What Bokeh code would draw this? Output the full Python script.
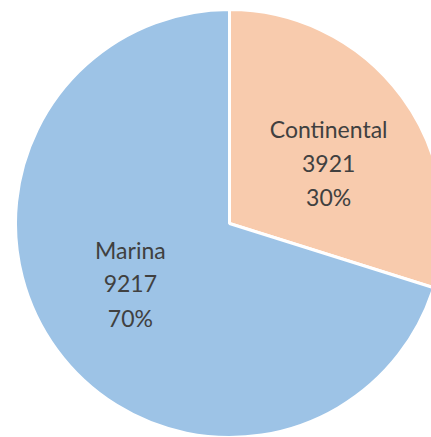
import math
from bokeh.plotting import figure
from bokeh.models import Range1d, ColumnDataSource
from bokeh.core.properties import value
from bokeh.embed import file_html
from bokeh.resources import INLINE

categories = ["Continental", "Marina"]
values = [3921, 9217]
colors = ["#F8CBAD", "#9DC3E6"]

W, H = 431, 437
cx, cy, r = 229, H - 223, 214

total = sum(values)
starts, ends, mids, pcts = [], [], [], []
a = math.pi / 2
for v in values:
    sweep = 2 * math.pi * v / total
    starts.append(a)
    ends.append(a - sweep)
    mids.append(a - sweep / 2)
    pcts.append(f"{round(100 * v / total)}%")
    a -= sweep

src = ColumnDataSource(dict(cat=categories, val=values, start=starts, end=ends, color=colors))

p = figure(width=W, height=H, output_backend="svg", toolbar_location=None,
           x_range=Range1d(0, W), y_range=Range1d(0, H), min_border=0)
p.axis.visible = False
p.grid.visible = False
p.outline_line_color = None
p.background_fill_color = "white"

p.wedge(x=cx, y=cy, radius=r, start_angle="start", end_angle="end", direction="clock",
        fill_color="color", line_color="white", line_width=3, source=src)

lx, ly, lab1, lab2, lab3 = [], [], [], [], []
dist = 116
for c, v, m, pc in zip(categories, values, mids, pcts):
    mm = m - math.radians(5)
    lx.append(cx + dist * math.cos(mm))
    ly.append(cy + dist * math.sin(mm))
    lab1.append(c)
    lab2.append(str(v))
    lab3.append(pc)

gap = 34
for i, labs in enumerate([lab1, lab2, lab3]):
    p.text(x=lx, y=[y + gap - i * gap for y in ly], text=labs, text_align="center",
           text_baseline="middle", text_font=value("Lato"), text_font_size="23px",
           text_color="#404040")

open("out.html", "w").write(file_html(p, INLINE))
